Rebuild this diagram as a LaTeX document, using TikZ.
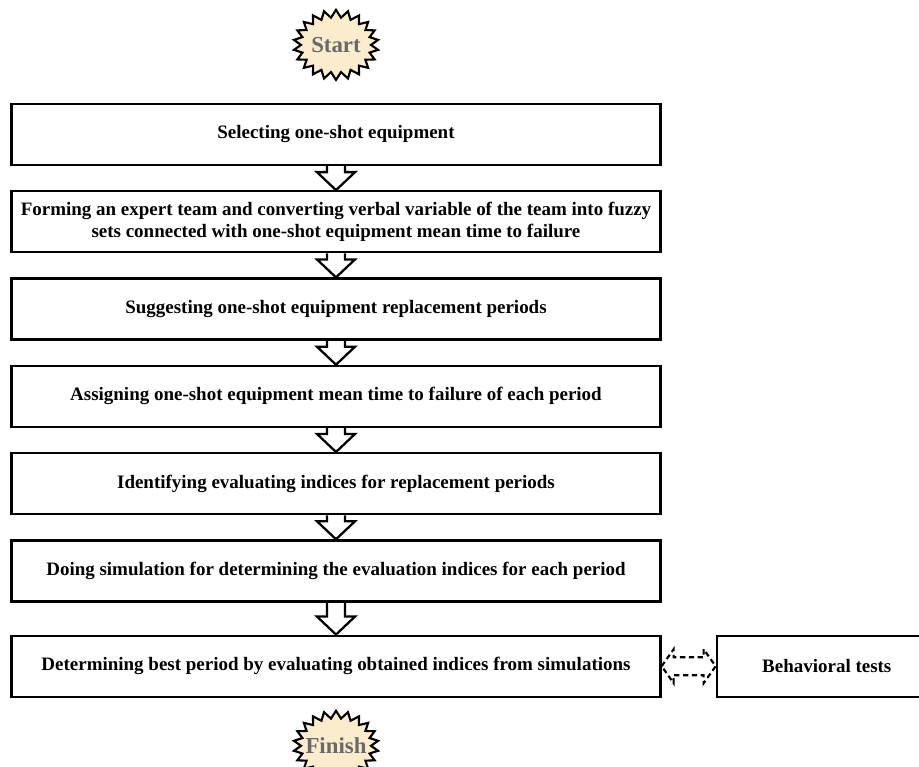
\documentclass[tikz,border=0pt]{standalone}
\usepackage{fontspec}
\setmainfont{Liberation Serif}
\usetikzlibrary{positioning}
\usetikzlibrary{calc}
\usetikzlibrary{shapes.symbols}
\definecolor{starfill}{RGB}{252,236,206}
\definecolor{startext}{RGB}{105,105,105}
\tikzset{stepbox/.style={draw, line width=1.3pt, minimum width=12.98cm, minimum height=1.22cm, align=center, font=\bfseries\fontsize{10.8}{12.5}\selectfont},
  burst/.style={starburst, starburst points=22, starburst point height=0.15cm, random starburst=0, draw, line width=1.2pt, fill=starfill, text=startext, minimum width=1.7cm, minimum height=1.4cm, inner xsep=-0.12cm, inner ysep=0pt, font=\bfseries\fontsize{13}{13}\selectfont},
  blockarrow/.style={line width=1.3pt, line join=miter},
  dasharrow/.style={line width=1.2pt, dash pattern=on 3pt off 2pt}}
\newcommand{\blockdown}[2]{%
  \draw[blockarrow] ($(#1.south)+(-0.18,0)$) -- ($(#2.north)+(-0.18,0.36)$) -- ++(-0.2,0) -- (#2.north)
    -- ($(#2.north)+(0.38,0.36)$) -- ++(-0.2,0) -- ($(#1.south)+(0.18,0)$);}
\begin{document}
\begin{tikzpicture}
\useasboundingbox (0,0) rectangle (18.38,-15.34);
\node (b1) [stepbox] at (6.72,-2.69) {Selecting one-shot equipment};
\node (start) [burst, above=0.42cm of b1] {Start};
\node (b2) [stepbox, below=0.48cm of b1] {Forming an expert team and converting verbal variable of the team into fuzzy\\sets connected with one-shot equipment mean time to failure};
\node (b3) [stepbox, below=0.48cm of b2] {Suggesting one-shot equipment replacement periods};
\node (b4) [stepbox, below=0.48cm of b3] {Assigning one-shot equipment mean time to failure of each period};
\node (b5) [stepbox, below=0.48cm of b4] {Identifying evaluating indices for replacement periods};
\node (b6) [stepbox, below=0.48cm of b5] {Doing simulation for determining the evaluation indices for each period};
\node (b7) [stepbox, below=0.64cm of b6] {Determining best period by evaluating obtained indices from simulations};
\node (finish) [burst, below=0.22cm of b7] {Finish};
\node (tests) [stepbox, minimum width=4.4cm, right=1.08cm of b7] {Behavioral tests};
\blockdown{b1}{b2}
\blockdown{b2}{b3}
\blockdown{b3}{b4}
\blockdown{b4}{b5}
\blockdown{b5}{b6}
\blockdown{b6}{b7}
% dashed link to the tests
\draw[dasharrow] (b7.east) -- ++(0.24,0.34) -- ++(0,-0.16) -- ($(tests.west)+(-0.24,0.18)$) -- ++(0,0.16) -- (tests.west)
  -- ++(-0.24,-0.34) -- ++(0,0.16) -- ($(b7.east)+(0.24,-0.18)$) -- ++(0,-0.16) -- cycle;
\end{tikzpicture}
\end{document}
